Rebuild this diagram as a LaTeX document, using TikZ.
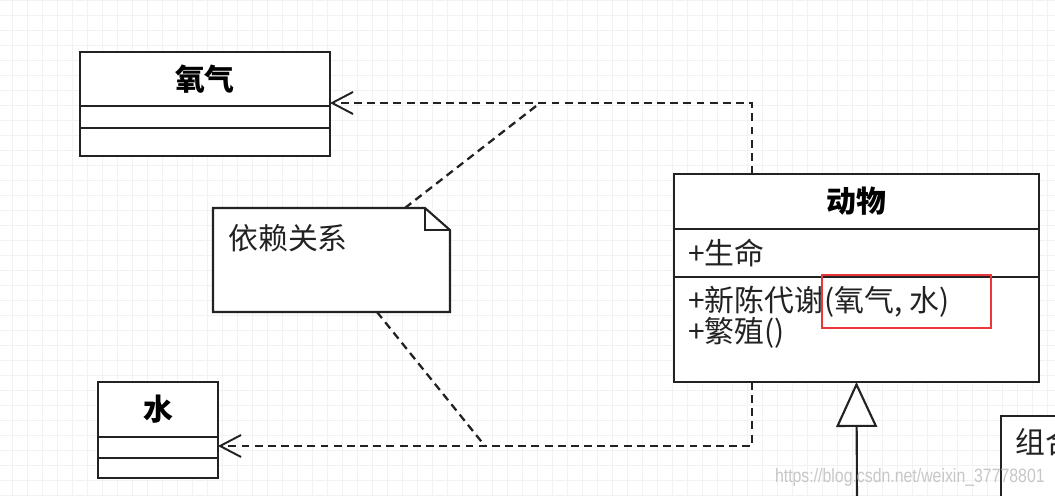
\documentclass[tikz,border=0pt]{standalone}
\usepackage{fontspec}
\usepackage{tikz}
\usetikzlibrary{positioning,arrows.meta}
\newfontfamily\cjk{Noto Sans CJK SC}
\newfontfamily\wmfont{Liberation Sans}[FakeStretch=0.82]
\pgfdeclarelayer{background}
\pgfsetlayers{background,main}
\definecolor{umlline}{HTML}{222222}
\definecolor{markred}{HTML}{E8383B}
\tikzset{
    font={\cjk\fontsize{17pt}{17.6pt}\selectfont},
    compart/.style={
        rectangle,
        draw=umlline, line width=1.2pt,
        fill=white,
        outer sep=0pt, inner sep=0pt
    },
    classhead/.style={
        compart,
        font={\cjk\bfseries\fontsize{17pt}{17.6pt}\selectfont}
    },
    member/.style={inner sep=0pt, anchor=west, text=umlline},
    gridline/.style={draw=black!5, line width=0.4pt},
    shade/.style={fill=black!9},
}
\begin{document}
\begin{tikzpicture}
[
    x=0.02cm, y=-0.02cm,
    dep/.style={draw=umlline, line width=1.3pt, dash pattern=on 4.5pt off 3pt,
        -{Straight Barb[length=0.42cm, width=0.44cm, line width=1.1pt]}},
    notelink/.style={draw=umlline, line width=1.3pt, dash pattern=on 4.5pt off 3pt},
    inherit/.style={draw=umlline, line width=1.2pt,
        -{Triangle[open, length=0.9cm, width=0.82cm, fill=white]}},
]
\clip (0,0) rectangle (1055,496);
\fill[white] (0,0) rectangle (1055,496);
\foreach \gx in {12,27,...,1055} \draw[gridline] (\gx,0) -- (\gx,496);
\foreach \gy in {0,15,...,496} \draw[gridline] (0,\gy) -- (1055,\gy);
% class oxygen
\node(ox-head) at (80,52) [classhead, anchor=north west, minimum width=5cm, minimum height=1.08cm]{氧气};
\node(ox-attr) [compart, below=0pt of ox-head, minimum width=5cm, minimum height=0.44cm]{};
\node(ox-ops) [compart, below=0pt of ox-attr, minimum width=5cm, minimum height=0.56cm]{};
% class water
\node(wa-head) at (98,382) [classhead, anchor=north west, minimum width=2.4cm, minimum height=1.1cm]{水};
\node(wa-attr) [compart, below=0pt of wa-head, minimum width=2.4cm, minimum height=0.42cm]{};
\node(wa-ops) [compart, below=0pt of wa-attr, minimum width=2.4cm, minimum height=0.4cm]{};
% class animal
\node(an-head) at (674,174) [classhead, anchor=north west, minimum width=7.3cm, minimum height=1.1cm]{动物};
\node(an-attr) [compart, below=0pt of an-head, minimum width=7.3cm, minimum height=0.96cm]{};
\node(an-ops) [compart, below=0pt of an-attr, minimum width=7.3cm, minimum height=2.1cm]{};
\node(an-life) [member] at ([xshift=0.28cm]an-attr.west){+生命};
\node(an-meth1) [member] at ([xshift=0.28cm, yshift=-0.5cm]an-ops.north west){+新陈代谢(氧气, 水)};
\node(an-meth2) [member] at ([xshift=0.28cm, yshift=-1.12cm]an-ops.north west){+繁殖()};
% note
\node(note) at (213,208) [anchor=north west, minimum width=4.74cm, minimum height=2.08cm, outer sep=0pt]{};
\fill[white] (note.north west) -- ([xshift=-0.5cm]note.north east) -- ([yshift=-0.44cm]note.north east)
    -- (note.south east) -- (note.south west) -- cycle;
\draw[umlline, line width=1.2pt] (note.north west) -- ([xshift=-0.5cm]note.north east) -- ([yshift=-0.44cm]note.north east)
    -- (note.south east) -- (note.south west) -- cycle;
\draw[umlline, line width=1.2pt] ([xshift=-0.5cm]note.north east) |- ([yshift=-0.44cm]note.north east);
\node(note-txt) [member] at ([xshift=0.3cm, yshift=-0.6cm]note.north west){依赖关系};
% composition note, cut by the edge
\node(comp) at (1001,416) [compart, anchor=north west, minimum width=3cm, minimum height=3cm]{};
\node(comp-txt) [member] at ([xshift=0.28cm, yshift=-0.52cm]comp.north west){组合};
% shadows
\begin{pgfonlayer}{background}
\fill[shade] ([shift={(17,15)}]ox-head.north west) rectangle ([shift={(17,15)}]ox-ops.south east);
\fill[shade] ([shift={(17,15)}]wa-head.north west) rectangle ([shift={(17,15)}]wa-ops.south east);
\fill[shade] ([shift={(17,15)}]an-head.north west) rectangle ([shift={(17,15)}]an-ops.south east);
\end{pgfonlayer}
% connectors
\coordinate(bendtop) at (752,103);
\coordinate(bendbot) at (752,446);
\coordinate(jtop) at (540,103);
\coordinate(jbot) at (485,446);
\coordinate(inhbot) at (857,500);
\draw[dep] (an-head.north west -| bendtop) -- (bendtop) -- (bendtop -| ox-head.east);
\draw[dep] (an-ops.south west -| bendbot) -- (bendbot) -- (bendbot -| wa-attr.east);
\draw[notelink] ([xshift=3.84cm]note.north west) -- (jtop);
\draw[notelink] ([xshift=3.28cm]note.south west) -- (jbot);
\draw[inherit] (inhbot) -- (an-ops.south);
% highlight
\node(mark) at (821,274) [anchor=north west, draw=markred, line width=1.3pt, minimum width=3.38cm, minimum height=1.06cm, inner sep=0pt]{};
\node(wmark) at (1045,478) [anchor=east, inner sep=0pt, text=black!22, font={\wmfont\fontsize{11pt}{13pt}\selectfont}]{https://blog.csdn.net/weixin\_37778801};
\end{tikzpicture}
\end{document}
